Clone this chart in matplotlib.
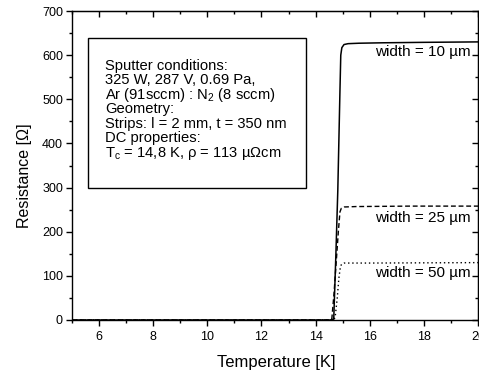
import matplotlib
matplotlib.use("Agg")
import matplotlib.pyplot as plt
from matplotlib.ticker import MultipleLocator
from matplotlib.patches import Rectangle

plt.rcParams['font.family'] = ['Liberation Sans', 'DejaVu Sans']
plt.rcParams['mathtext.fontset'] = 'custom'
plt.rcParams['mathtext.rm'] = 'Liberation Sans'
plt.rcParams['mathtext.it'] = 'Liberation Sans:italic'

# Resistance vs temperature for three strip widths
t_10 = [5.0, 14.55, 14.67, 14.75, 14.82, 14.9, 14.93, 14.97, 15.05, 15.2, 15.6, 16.5, 18.0, 20.0]
r_10 = [0.0, 0.0, 2.0, 150.0, 293.0, 520.0, 600.0, 617.0, 624.0, 626.0, 627.0, 628.0, 629.0, 630.0]

t_25 = [5.0, 14.55, 14.6, 14.68, 14.76, 14.84, 14.9, 14.95, 15.05, 15.5, 17.5, 20.0]
r_25 = [0.0, 0.0, 3.0, 60.0, 130.0, 200.0, 245.0, 253.0, 256.0, 257.0, 258.0, 258.0]

t_50 = [5.0, 14.65, 14.72, 14.8, 14.86, 14.92, 14.97, 15.05, 16.0, 20.0]
r_50 = [0.0, 0.0, 5.0, 50.0, 95.0, 122.0, 127.0, 129.0, 129.0, 130.0]

width_labels = ["width = 10 µm", "width = 25 µm", "width = 50 µm"]
label_y = [607, 232, 106]

info_lines = ["Sputter conditions:",
              "325 W, 287 V, 0.69 Pa,",
              "Ar (91sccm) : N$_\\mathregular{2}$ (8 sccm)",
              "Geometry:",
              "Strips: l = 2 mm, t = 350 nm",
              "DC properties:",
              "T$_\\mathregular{c}$ = 14,8 K, ρ = 113 µΩcm"]

fig = plt.figure(figsize=(4.79, 3.73), dpi=100)
ax = fig.add_axes([72 / 479, 1 - 320 / 373, 406 / 479, 309 / 373])

ax.plot(t_10, r_10, color='black', lw=1.1, ls='-')
ax.plot(t_25, r_25, color='black', lw=1.0, ls=(0, (3.5, 2)))
ax.plot(t_50, r_50, color='black', lw=1.0, ls=(0, (1, 2)))

ax.set_xlim(5, 20)
ax.set_ylim(0, 700)
ax.xaxis.set_major_locator(MultipleLocator(2))
ax.xaxis.set_minor_locator(MultipleLocator(1))
ax.yaxis.set_major_locator(MultipleLocator(100))
ax.yaxis.set_minor_locator(MultipleLocator(50))
ax.tick_params(which='both', direction='out', labelsize=9, width=1, top=False, right=False)
ax.tick_params(which='major', length=4.5)
ax.tick_params(which='minor', length=2.5)
ax.tick_params(axis='y', pad=2)
ax.set_xticks([6, 8, 10, 12, 14, 16, 18, 20])
for sp in ax.spines.values():
    sp.set_linewidth(1.0)

# inward ticks on the top and right frame
top = ax.secondary_xaxis('top')
top.xaxis.set_major_locator(MultipleLocator(2))
top.xaxis.set_minor_locator(MultipleLocator(1))
top.tick_params(which='both', direction='in', labeltop=False, width=1)
top.tick_params(which='major', length=4.5)
top.tick_params(which='minor', length=2.5)
right = ax.secondary_yaxis('right')
right.yaxis.set_major_locator(MultipleLocator(100))
right.yaxis.set_minor_locator(MultipleLocator(50))
right.tick_params(which='both', direction='in', labelright=False, width=1)
right.tick_params(which='major', length=4.5)
right.tick_params(which='minor', length=2.5)

ax.set_xlabel("Temperature [K]", fontsize=12)
ax.xaxis.label.set_va('baseline')
ax.xaxis.set_label_coords(0.504, -0.151)
ax.set_ylabel("Resistance [Ω]", fontsize=11.5)
ax.yaxis.label.set_va('center')
ax.yaxis.set_label_coords(-0.116, 0.468)

for txt, y in zip(width_labels, label_y):
    ax.text(19.72, y, txt, fontsize=11, ha='right', va='center')

# parameter box
ax.add_patch(Rectangle((5.59, 299), 13.64 - 5.59, 639 - 299, fill=True,
                       fc='white', ec='black', lw=1.0, zorder=3))
for i, line in enumerate(info_lines):
    ax.text(6.22, 566.4 - 32.85 * i, line, fontsize=10.6, ha='left',
            va='baseline', zorder=4)

fig.savefig("out.png", dpi=100)
